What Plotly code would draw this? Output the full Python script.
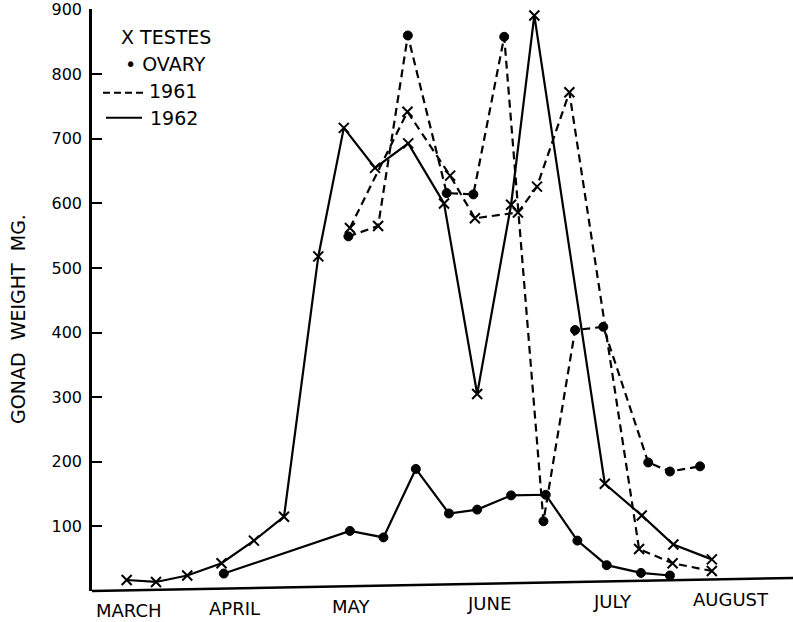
import plotly.graph_objects as go

# ---------------- data ----------------
# x: days from the start of the time axis (early March), y: gonad weight in mg
testes_1962_x = [9.1, 16.8, 25.0, 34.0, 42.5, 50.4, 59.4, 66.1, 74.3, 83.0, 92.4,
                 101.1, 110.0, 116.1, 134.6, 144.3, 152.6, 162.7]
testes_1962_y = [17, 14, 24, 43, 78, 115, 518, 717, 655, 693, 600,
                 305, 598, 891, 166, 117, 72, 49]

ovary_1962_x = [34.6, 67.7, 76.5, 85.0, 93.7, 101.1, 110.0, 119.1, 127.4, 135.1, 144.1, 151.7]
ovary_1962_y = [27, 93, 83, 189, 120, 126, 148, 149, 78, 40, 28, 24]

testes_1961_x = [67.7, 82.8, 94.0, 100.5, 111.8, 116.8, 125.3, 143.6, 152.4, 162.7]
testes_1961_y = [562, 742, 643, 577, 586, 626, 772, 65, 43, 31]

ovary_1961_x = [67.3, 75.1, 82.9, 93.1, 100.1, 108.2, 118.5, 126.8, 134.2, 146.0, 151.7, 159.6]
ovary_1961_y = [549, 565, 860, 616, 614, 858, 108, 404, 409, 199, 185, 193]
ovary_1961_cross_index = 1  # this sample is drawn with a cross in the original figure

month_labels = ["MARCH", "APRIL", "MAY", "JUNE", "JULY", "AUGUST"]
month_x = [9.7, 37.5, 67.9, 104.2, 136.7, 167.6]

y_tick_values = [100, 200, 300, 400, 500, 600, 700, 800, 900]
y_tick_labels = ["100", "200", "300", "400", "500", "600", "700", "800", "900"]

# ---------------- layout geometry ----------------
W, H = 793, 622
L, R, T, B = 92, 0, 7, 31
X_RANGE = [0, 184]
Y_RANGE = [0, 901]
PW, PH = W - L - R, H - T - B
FONT = "DejaVu Sans"
INK = "#000000"


def px_x(px):
    return (px - L) / PW


def px_y(py):
    return (H - B - py) / PH


SLANT_RISE_PX = 13  # the hand-drawn baseline rises toward the right

x_marker = dict(symbol="x-thin", size=10, color=INK, line=dict(width=2, color=INK))
dot_marker = dict(symbol="circle", size=9, color=INK, line=dict(width=1, color=INK))
solid = dict(color=INK, width=2.2)
dashed = dict(color=INK, width=2.2, dash="8px,5px")

fig = go.Figure()

fig.add_trace(go.Scatter(x=testes_1962_x, y=testes_1962_y, mode="lines+markers",
                         line=solid, marker=x_marker, cliponaxis=False, name="Testes 1962"))
fig.add_trace(go.Scatter(x=ovary_1962_x, y=ovary_1962_y, mode="lines+markers",
                         line=solid, marker=dot_marker, cliponaxis=False, name="Ovary 1962"))
fig.add_trace(go.Scatter(x=testes_1961_x, y=testes_1961_y, mode="lines+markers",
                         line=dashed, marker=x_marker, cliponaxis=False, name="Testes 1961"))

# ovary 1961: line through all samples, dots on all but the one drawn as a cross
fig.add_trace(go.Scatter(x=ovary_1961_x, y=ovary_1961_y, mode="lines",
                         line=dashed, cliponaxis=False, name="Ovary 1961"))
dot_idx = [i for i in range(len(ovary_1961_x)) if i != ovary_1961_cross_index]
fig.add_trace(go.Scatter(x=[ovary_1961_x[i] for i in dot_idx],
                         y=[ovary_1961_y[i] for i in dot_idx], mode="markers",
                         marker=dot_marker, cliponaxis=False, name="Ovary 1961"))
fig.add_trace(go.Scatter(x=[ovary_1961_x[ovary_1961_cross_index]],
                         y=[ovary_1961_y[ovary_1961_cross_index]], mode="markers",
                         marker=x_marker, cliponaxis=False, name="Ovary 1961"))

base_left_py = H - B
shapes = [
    # slanted hand-drawn x baseline
    dict(type="line", xref="paper", yref="paper", x0=0, y0=0, x1=1,
         y1=px_y(base_left_py - SLANT_RISE_PX), line=dict(color=INK, width=2.5)),
    # legend line samples
    dict(type="line", xref="paper", yref="paper", x0=px_x(103), x1=px_x(145),
         y0=px_y(91), y1=px_y(91), line=dict(color=INK, width=2, dash="7px,4px")),
    dict(type="line", xref="paper", yref="paper", x0=px_x(106), x1=px_x(142),
         y0=px_y(116), y1=px_y(116), line=dict(color=INK, width=2)),
]

annotations = []
for lab, mx in zip(month_labels, month_x):
    frac = (mx - X_RANGE[0]) / (X_RANGE[1] - X_RANGE[0])
    label_py = base_left_py - SLANT_RISE_PX * frac + 20
    annotations.append(dict(x=mx, y=px_y(label_py), xref="x", yref="paper",
                            text=lab, showarrow=False, xanchor="center", yanchor="middle",
                            font=dict(family=FONT, size=18, color=INK)))

legend_items = [("X TESTES", 119, 35), ("\u2022 OVARY", 123, 62),
                ("1961", 147, 89), ("1962", 148, 116)]
for txt, lx, ly in legend_items:
    annotations.append(dict(x=px_x(lx), y=px_y(ly), xref="paper", yref="paper",
                            text=txt, showarrow=False, xanchor="left", yanchor="middle",
                            font=dict(family=FONT, size=19, color=INK)))

annotations.append(dict(x=px_x(18), y=px_y(318), xref="paper", yref="paper",
                        text="GONAD\u00a0\u00a0WEIGHT\u00a0\u00a0MG.", textangle=-90,
                        showarrow=False, xanchor="center", yanchor="middle",
                        font=dict(family=FONT, size=19, color=INK)))

fig.update_layout(
    width=W, height=H,
    margin=dict(l=L, r=R, t=T, b=B, pad=0),
    paper_bgcolor="white", plot_bgcolor="white",
    showlegend=False,
    shapes=shapes,
    annotations=annotations,
    xaxis=dict(range=X_RANGE, showgrid=False, zeroline=False, showline=False,
               showticklabels=False, ticks=""),
    yaxis=dict(range=Y_RANGE, showgrid=False, zeroline=False, showline=True,
               linecolor=INK, linewidth=2.5, ticks="inside", ticklen=10, tickwidth=2,
               tickcolor=INK, tickvals=y_tick_values, ticktext=y_tick_labels,
               ticklabelstandoff=4, ticklabeloverflow="allow",
               tickfont=dict(family=FONT, size=16, color=INK)),
)

fig.write_html("out.html", config={"displayModeBar": False},
               post_script="document.body.style.margin='0px';"
                           "document.body.style.overflow='hidden';")
